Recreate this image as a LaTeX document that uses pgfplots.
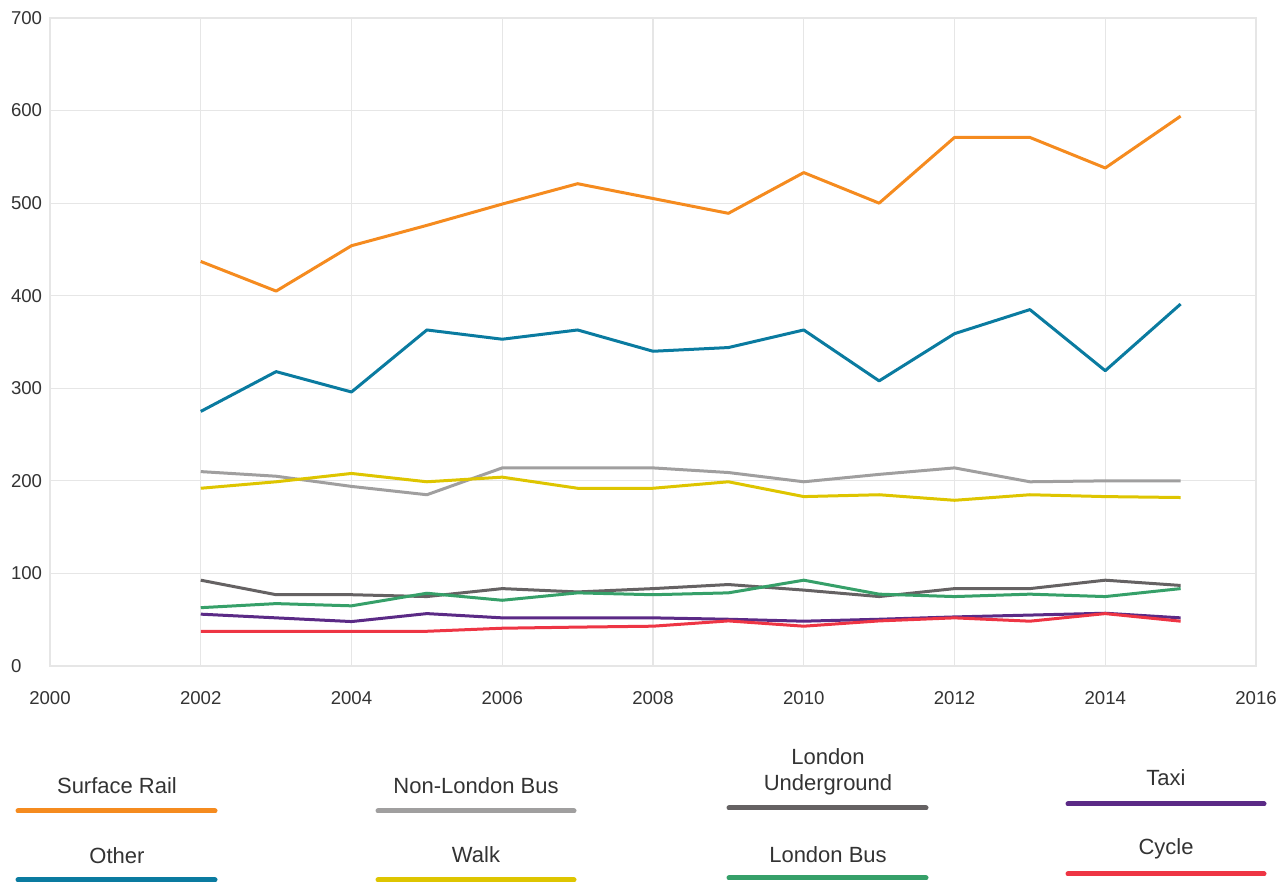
\documentclass[border=0pt]{standalone}
\usepackage{fontspec}
\setmainfont{Liberation Sans}
\usepackage{pgfplots}
\pgfplotsset{compat=1.18}
\definecolor{cRail}{HTML}{F58B1F}
\definecolor{cOther}{HTML}{0A7BA0}
\definecolor{cNLBus}{HTML}{A09F9F}
\definecolor{cWalk}{HTML}{DEC500}
\definecolor{cLU}{HTML}{656263}
\definecolor{cLBus}{HTML}{36A069}
\definecolor{cTaxi}{HTML}{5B2A86}
\definecolor{cCycle}{HTML}{EE3544}
\definecolor{gridgray}{HTML}{E6E6E6}
\definecolor{textgray}{HTML}{333333}
\begin{document}
\begin{tikzpicture}
\path[use as bounding box] (0,0) rectangle (641.5pt,441pt);
\begin{axis}[at={(25pt,108pt)}, anchor=south west, scale only axis,
  width=603pt, height=324pt,
  xmin=2000, xmax=2016, ymin=0, ymax=700,
  xtick={2000,2002,...,2016}, ytick={0,100,...,700},
  grid=major, major grid style={draw=gridgray, line width=0.6pt},
  axis line style={draw=gridgray, line width=0.6pt},
  tick style={draw=none},
  /pgf/number format/1000 sep={}, /pgf/number format/assume math mode=true,
  tick label style={font=\fontsize{9.3}{10}\selectfont, text=textgray},
  yticklabel style={anchor=west, xshift=-23pt},
  xticklabel style={yshift=-9pt},
  every axis plot/.append style={line width=1.5pt, no markers, line join=round},
]
\addplot[cRail] coordinates {(2002,437)(2003,405)(2004,454)(2005,476)(2006,499)(2007,521)(2008,505)(2009,489)(2010,533)(2011,500)(2012,571)(2013,571)(2014,538)(2015,594)};
\addplot[cOther] coordinates {(2002,275)(2003,318)(2004,296)(2005,363)(2006,353)(2007,363)(2008,340)(2009,344)(2010,363)(2011,308)(2012,359)(2013,385)(2014,319)(2015,391)};
\addplot[cNLBus] coordinates {(2002,210)(2003,205)(2004,194)(2005,185)(2006,214)(2007,214)(2008,214)(2009,209)(2010,199)(2011,207)(2012,214)(2013,199)(2014,200)(2015,200)};
\addplot[cWalk] coordinates {(2002,192)(2003,199)(2004,208)(2005,199)(2006,204)(2007,192)(2008,192)(2009,199)(2010,183)(2011,185)(2012,179)(2013,185)(2014,183)(2015,182)};
\addplot[cLU] coordinates {(2002,92.7)(2003,77)(2004,77)(2005,75)(2006,83.6)(2007,80)(2008,83.6)(2009,88)(2010,82)(2011,75)(2012,83.6)(2013,83.6)(2014,92.7)(2015,87)};
\addplot[cLBus] coordinates {(2002,63)(2003,67.4)(2004,65)(2005,78.6)(2006,71)(2007,79)(2008,77)(2009,79)(2010,92.7)(2011,77.6)(2012,75)(2013,77.6)(2014,75)(2015,83.6)};
\addplot[cTaxi] coordinates {(2002,56)(2003,52)(2004,48)(2005,56.6)(2006,52)(2007,52)(2008,52)(2009,50.5)(2010,48.4)(2011,50.5)(2012,53)(2013,55)(2014,57)(2015,52)};
\addplot[cCycle] coordinates {(2002,37.5)(2003,37.5)(2004,37.5)(2005,37.5)(2006,40.8)(2007,42)(2008,43)(2009,48.7)(2010,43)(2011,48.7)(2012,52)(2013,48.4)(2014,56.6)(2015,48.4)};
\end{axis}
\begin{scope}[shift={(0pt,441pt)}, x=0.5pt, y=-0.5pt,
  every node/.style={font=\fontsize{11}{13}\selectfont, text=textgray, align=center},
  lg/.style={line width=2.5pt, line cap=round}]
\draw[lg, cRail] (18,811) -- (215,811); \node at (117,786) {Surface Rail};
\draw[lg, cOther] (18,880) -- (215,880); \node at (117,856) {Other};
\draw[lg, cNLBus] (378,811) -- (574,811); \node at (476,786) {Non-London Bus};
\draw[lg, cWalk] (378,880) -- (574,880); \node at (476,855) {Walk};
\draw[lg, cLU] (729,808) -- (926,808); \node at (828,772) {London\\Underground};
\draw[lg, cLBus] (729,878) -- (926,878); \node at (828,855) {London Bus};
\draw[lg, cTaxi] (1068,804) -- (1264,804); \node at (1166,778) {Taxi};
\draw[lg, cCycle] (1068,874) -- (1264,874); \node at (1166,849) {Cycle};
\end{scope}
\end{tikzpicture}
\end{document}
